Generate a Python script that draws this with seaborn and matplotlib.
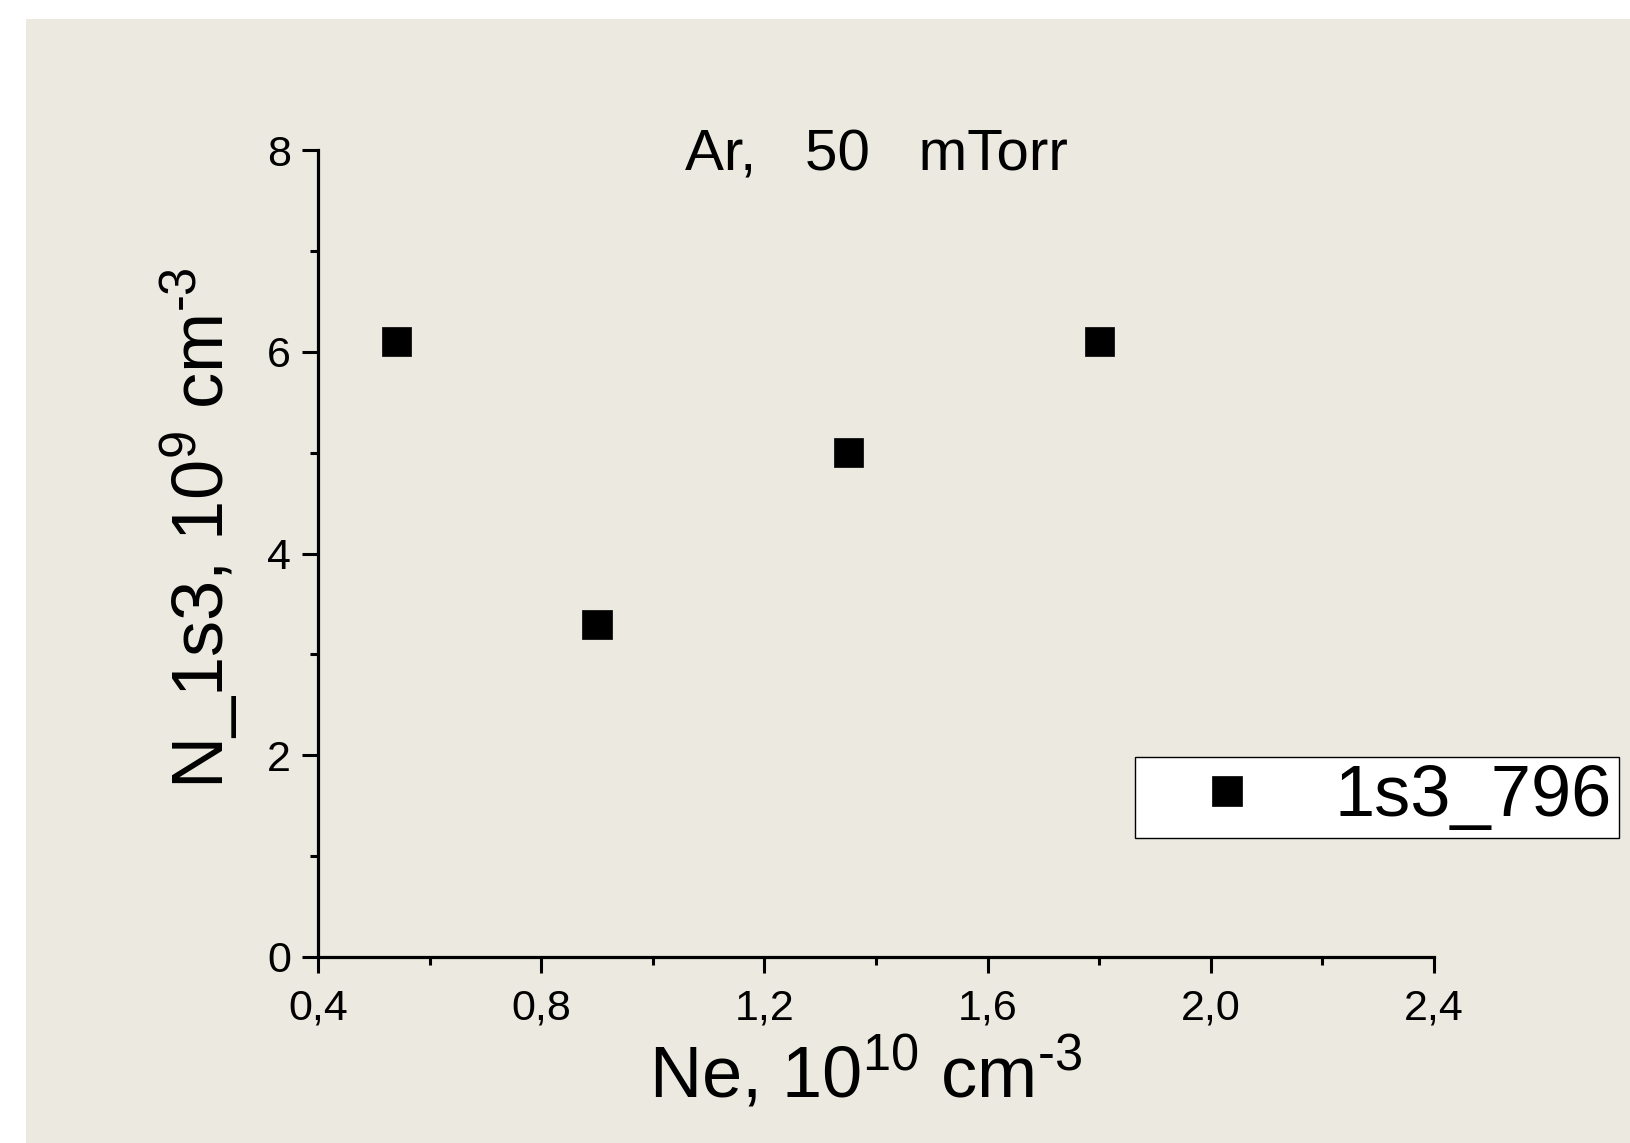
import seaborn as sns
import pandas as pd
import matplotlib.pyplot as plt
from matplotlib.patches import Rectangle

# data
ne = [0.54, 0.90, 1.35, 1.80]
n_1s3 = [6.1, 3.3, 5.0, 6.1]
series_name = "1s3_796"

x_ticks = [0.4, 0.8, 1.2, 1.6, 2.0, 2.4]
x_tick_labels = ["0,4", "0,8", "1,2", "1,6", "2,0", "2,4"]
y_ticks = [0, 2, 4, 6, 8]
y_tick_labels = ["0", "2", "4", "6", "8"]

df = pd.DataFrame({"Ne": ne, "N": n_1s3, "series": series_name})

sns.set_style("ticks")
plt.rcParams["font.family"] = ["Liberation Sans", "DejaVu Sans"]
plt.rcParams["mathtext.fontset"] = "custom"
plt.rcParams["mathtext.rm"] = "Liberation Sans"
plt.rcParams["mathtext.it"] = "Liberation Sans"
plt.rcParams["mathtext.bf"] = "Liberation Sans"
plt.rcParams["text.color"] = "black"
plt.rcParams["axes.labelcolor"] = "black"

beige = "#ECEAE0"

fig = plt.figure(figsize=(16.3, 11.43), dpi=100, facecolor="white")
# beige panel behind everything
fig.patches.append(Rectangle((26 / 1630, 0), 1, 1 - 19 / 1143, transform=fig.transFigure,
                             facecolor=beige, edgecolor="none", zorder=-10))
ax = fig.add_axes([318 / 1630, 1 - 957 / 1143, (1434 - 318) / 1630, (957 - 150) / 1143])
ax.set_facecolor(beige)

sns.scatterplot(data=df, x="Ne", y="N", hue="series", palette=["black"], marker="s",
                s=440, edgecolor="black", linewidth=0.5, ax=ax, zorder=5, clip_on=False)

ax.set_xlim(0.4, 2.4)
ax.set_ylim(0, 8)
ax.set_xticks(x_ticks)
ax.set_xticklabels(x_tick_labels)
ax.set_yticks(y_ticks)
ax.set_yticklabels(y_tick_labels)
ax.set_xticks([0.6, 1.0, 1.4, 1.8, 2.2], minor=True)
ax.set_yticks([1, 3, 5, 7], minor=True)

for s in ["top", "right"]:
    ax.spines[s].set_visible(False)
for s in ["left", "bottom"]:
    ax.spines[s].set_linewidth(2.3)
    ax.spines[s].set_color("black")

ax.tick_params(axis="both", which="major", direction="out", length=11.5, width=2.2,
               labelsize=31, colors="black")
ax.tick_params(axis="both", which="minor", direction="out", length=6, width=2.2, colors="black")
ax.tick_params(axis="x", which="major", pad=11)
ax.tick_params(axis="y", which="major", pad=8)

ax.set_xlabel(r"Ne, 10$^{10}$ cm$^{\text{-3}}$", fontsize=52, color="black")
ax.set_ylabel(r"N_1s3, 10$^9$ cm$^{\text{-3}}$", fontsize=52, color="black")
ax.xaxis.set_label_coords(0.491, -0.097)
ax.yaxis.set_label_coords(-0.07, 0.531)

ax.text(0.5, 0.974, "Ar,   50   mTorr", transform=ax.transAxes, ha="center",
        va="baseline", fontsize=42, color="black")

leg = ax.legend(loc="upper left", bbox_to_anchor=(1135 / 1630, 1 - 757 / 1143),
                bbox_transform=fig.transFigure, fontsize=52, frameon=True, fancybox=False,
                framealpha=1, edgecolor="black", borderpad=0.1, borderaxespad=0,
                handlelength=2.36, handletextpad=0.3, title=None)
leg.get_frame().set_linewidth(1.0)
leg.get_frame().set_facecolor("white")
for t, lab in zip(leg.get_texts(), [series_name]):
    t.set_text(lab)
    t.set_color("black")

fig.savefig("out.png", dpi=100, facecolor="white")
